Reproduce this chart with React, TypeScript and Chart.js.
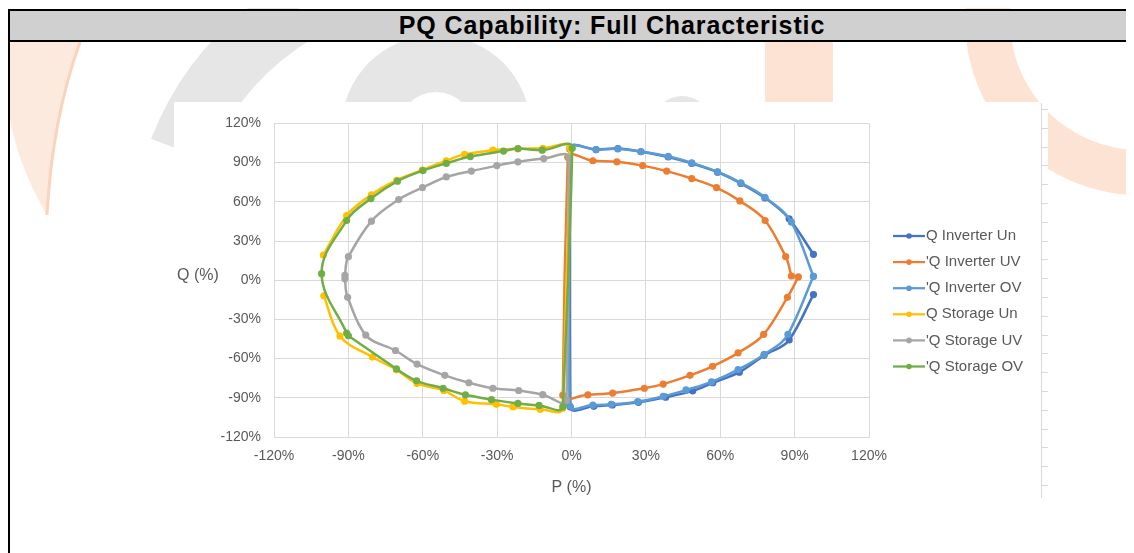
import React, { useEffect, useRef } from "react";
import { Chart, registerables } from "chart.js";

Chart.register(...registerables);

// ---------- data ----------
const seriesNames = [
  "Q Inverter Un",
  "'Q Inverter UV",
  "'Q Inverter OV",
  "Q Storage Un",
  "'Q Storage UV",
  "'Q Storage OV",
];
const seriesColors = ["#4472C4", "#ED7D31", "#5B9BD5", "#FFC000", "#A5A5A5", "#70AD47"];

const invUnP = [97.6, 87.8, 77.7, 67.7, 57.0, 48.9, 38.0, 27.0, 16.5, 9.0, -0.5, -0.5, 9.9, 18.7, 28.0, 39.0, 48.5, 58.9, 68.3, 78.0, 87.8, 97.6];
const invUnQ = [-11, -45.7, -57.5, -70.4, -78.5, -84.7, -89.5, -93.5, -95.5, -96.5, -97, 100.5, 100, 100.7, 98.3, 94.3, 89.4, 82.7, 74, 63, 47, 19.8];

const invUvP = [91.5, 87.1, 77.5, 67.2, 56.9, 47.8, 37.0, 29.4, 16.6, 6.6, -3.5, -1.5, 8.6, 18.3, 28.7, 38.4, 48.5, 58.5, 67.9, 78.1, 86.4, 88.7];
const invUvQ = [2.5, -13.1, -41.5, -55.6, -65.9, -72.8, -79.5, -82.7, -86.4, -87.7, -88, 94, 91.4, 90.6, 87.7, 83.5, 77.8, 70.9, 60.7, 45.7, 18, 3.2];

const invOvP = [97.6, 87.3, 77.7, 67.2, 56.5, 46.2, 37.0, 26.7, 16.0, 8.6, -0.8, -0.8, 9.9, 18.7, 28.0, 39.0, 48.5, 58.9, 68.3, 78.0, 88.7, 97.6];
const invOvQ = [3, -41.5, -56.8, -68.4, -77.8, -84, -88.9, -93, -95, -95.6, -96, 100.5, 100, 100.5, 98.5, 94.8, 89.8, 83, 74.5, 63.5, 44.4, 3];

const stoUnP = [-100.1, -90.7, -80.7, -70.5, -60.2, -50.5, -43.1, -31.7, -21.6, -11.5, -0.8, -3.5, -12.6, -23.6, -30.3, -43.1, -51.5, -62.3, -70.6, -80.3, -93.4, -99.9];
const stoUnQ = [19.3, 49.4, 65.4, 76.5, 84.3, 91.4, 96.3, 99.5, 100.5, 101, 101, -98, -98.8, -97, -95, -92.6, -84.4, -79, -68.6, -58.8, -42.7, -11.9];

const stoUvP = [-91.4, -90.0, -80.7, -69.7, -60.1, -50.5, -40.4, -30.1, -21.6, -11.2, -1.1, -2.0, -11.6, -21.3, -31.7, -41.4, -51.1, -62.3, -71.0, -83.0, -90.3, -91.4];
const stoUvQ = [3.7, 18, 45.2, 61.7, 70.9, 79, 83.5, 87.7, 90.6, 93.1, 93.5, -92, -87.6, -84.4, -82.7, -78.5, -72.8, -64.2, -53.8, -42, -13.1, 1.2];

const stoOvP = [-90.7, -100.8, -90.7, -80.9, -70.2, -59.9, -50.5, -40.8, -27.4, -21.6, -11.8, 0.3, -3.5, -13.1, -21.6, -32.3, -42.8, -51.8, -62.5, -70.6, -90.0];
const stoOvQ = [-40.5, 5, 45.7, 62.5, 75.8, 83.9, 89.4, 94.6, 98.8, 100.7, 99.5, 101, -96.8, -95.8, -94.3, -91.4, -87.7, -82.7, -77, -67.9, -42.5];

const seriesP = [invUnP, invUvP, invOvP, stoUnP, stoUvP, stoOvP];
const seriesQ = [invUnQ, invUvQ, invOvQ, stoUnQ, stoUvQ, stoOvQ];

const axisMin = -120;
const axisMax = 120;
const axisStep = 30;
const xTitle = "P (%)";
const yTitle = "Q (%)";
const chartTitle = "PQ Capability: Full Characteristic";

const FONT = "'Liberation Sans', Arial, sans-serif";
const TEXT = "#595959";
const GRID = "#d9d9d9";

// Excel-like smoothing: tangent dominated by the longer neighbouring segment,
// control distances proportional to each segment length.
const SMOOTH = 0.36;
const smoothPlugin = {
  id: "excelSmooth",
  beforeDatasetDraw(chart: any, args: any) {
    const meta = args.meta;
    const pts = meta.data;
    const n = pts.length;
    for (let i = 0; i < n; i++) {
      const p = pts[i];
      const prev = i > 0 ? pts[i - 1] : null;
      const next = i < n - 1 ? pts[i + 1] : null;
      const lin = prev ? Math.hypot(p.x - prev.x, p.y - prev.y) : 0;
      const lout = next ? Math.hypot(next.x - p.x, next.y - p.y) : 0;
      let tx = 0;
      let ty = 0;
      if (prev && next) {
        tx = (p.x - prev.x) * lin + (next.x - p.x) * lout;
        ty = (p.y - prev.y) * lin + (next.y - p.y) * lout;
      } else if (next) {
        tx = next.x - p.x;
        ty = next.y - p.y;
      } else if (prev) {
        tx = p.x - prev.x;
        ty = p.y - prev.y;
      }
      const tl = Math.hypot(tx, ty) || 1;
      tx /= tl;
      ty /= tl;
      p.cp1x = p.x - tx * SMOOTH * lin;
      p.cp1y = p.y - ty * SMOOTH * lin;
      p.cp2x = p.x + tx * SMOOTH * lout;
      p.cp2y = p.y + ty * SMOOTH * lout;
    }
    if (meta.dataset) meta.dataset._pointsUpdated = true;
  },
};

const overlayPlugin = {
  id: "overlay",
  afterDraw(chart: any) {
    const ctx = chart.ctx;
    const area = chart.chartArea;
    ctx.save();
    ctx.fillStyle = TEXT;
    ctx.font = `16px ${FONT}`;
    ctx.textBaseline = "middle";
    ctx.textAlign = "left";
    ctx.fillText(yTitle, 3, 174);
    ctx.textAlign = "center";
    ctx.fillText(xTitle, (area.left + area.right) / 2, 386);

    // legend
    ctx.font = `15px ${FONT}`;
    ctx.textAlign = "left";
    seriesNames.forEach((name, i) => {
      const y = 134 + i * 26.1;
      ctx.strokeStyle = seriesColors[i];
      ctx.lineWidth = 2.25;
      ctx.beginPath();
      ctx.moveTo(719, y);
      ctx.lineTo(751, y);
      ctx.stroke();
      ctx.fillStyle = seriesColors[i];
      ctx.beginPath();
      ctx.arc(735, y, 2.8, 0, Math.PI * 2);
      ctx.fill();
      ctx.fillStyle = TEXT;
      ctx.fillText(name, 752, y);
    });

    // right-side tick strip
    ctx.strokeStyle = GRID;
    ctx.lineWidth = 1;
    ctx.beginPath();
    ctx.moveTo(867.5, 1);
    ctx.lineTo(867.5, 396);
    for (let k = 0; k < 21; k++) {
      const y = Math.round(7 + k * 18.8) + 0.5;
      ctx.moveTo(867.5, y);
      ctx.lineTo(874, y);
    }
    ctx.stroke();
    ctx.restore();
  },
};

function ChartBox() {
  const ref = useRef<HTMLCanvasElement | null>(null);
  useEffect(() => {
    if (!ref.current) return;
    const datasets = seriesNames.map((name, i) => ({
      label: name,
      data: seriesP[i].map((p, k) => ({ x: p, y: seriesQ[i][k] })),
      showLine: true,
      borderColor: seriesColors[i],
      backgroundColor: seriesColors[i],
      borderWidth: 2.5,
      pointRadius: 3.6,
      pointBorderWidth: 0,
      pointHoverRadius: 3.6,
      tension: 0.3,
      fill: false,
      order: seriesNames.length - 1 - i,
    }));
    const tickFont = { size: 14, family: FONT };
    const chart = new Chart(ref.current, {
      type: "scatter",
      data: { datasets },
      plugins: [smoothPlugin, overlayPlugin],
      options: {
        responsive: false,
        animation: false,
        events: [],
        layout: { padding: { top: 11, right: 179, left: 0, bottom: 0 } },
        plugins: { legend: { display: false }, tooltip: { enabled: false }, title: { display: false } },
        scales: {
          x: {
            type: "linear",
            min: axisMin,
            max: axisMax,
            ticks: {
              stepSize: axisStep,
              color: TEXT,
              font: tickFont,
              padding: 11,
              callback: (v: any) => `${v}%`,
            },
            grid: { color: GRID, lineWidth: 1, drawTicks: false },
            border: { color: GRID },
            afterFit: (s: any) => {
              s.height = 61;
            },
          },
          y: {
            type: "linear",
            min: axisMin,
            max: axisMax,
            ticks: {
              stepSize: axisStep,
              color: TEXT,
              font: tickFont,
              padding: 13,
              callback: (v: any) => `${v}%`,
            },
            grid: { color: GRID, lineWidth: 1, drawTicks: false },
            border: { color: GRID },
            afterFit: (s: any) => {
              s.width = 100;
            },
          },
        },
      },
    } as any);
    return () => chart.destroy();
  }, []);
  return <canvas ref={ref} width={874} height={396} style={{ display: "block", width: 874, height: 396 }} />;
}

function Watermark() {
  const gray = "#e6e6e6";
  const peach = "#fde3d3";
  return (
    <svg width={1134} height={553} style={{ position: "absolute", left: -8, top: -8 }}>
      {/* left orange arc */}
      <path d="M 80 42 Q 52 120 47 215 Q 20 170 10 120 L 10 42 Z" fill="#fdeadf" />
      <path d="M 80 42 Q 52 120 47 215" stroke="#fbd3bb" strokeWidth={3} fill="none" />
      {/* gray band sweeping down-left */}
      <path d="M 300 10 Q 215 60 180 150" stroke={gray} strokeWidth={62} fill="none" />
      {/* gray ring */}
      <path
        d="M 341 130 A 95 95 0 1 1 531 130 A 95 95 0 1 1 341 130 Z M 398 130 A 38 38 0 1 0 474 130 A 38 38 0 1 0 398 130 Z"
        fill={gray}
        fillRule="evenodd"
      />
      {/* small gray hump */}
      <ellipse cx={682} cy={118} rx={26} ry={22} fill={gray} />
      {/* orange band */}
      <rect x={765} y={42} width={68} height={62} fill={peach} />
      {/* orange ring at right */}
      <path
        d="M 965 20 A 175 175 0 1 1 1315 20 A 175 175 0 1 1 965 20 Z M 1010 20 A 130 130 0 1 0 1270 20 A 130 130 0 1 0 1010 20 Z"
        fill={peach}
        fillRule="evenodd"
      />
    </svg>
  );
}

export default function App() {
  return (
    <div style={{ position: "relative", width: 1126, height: 545, overflow: "hidden" }}>
      <Watermark />
      <div
        style={{
          position: "absolute",
          left: 0,
          top: 1,
          width: 1206,
          height: 600,
          borderLeft: "2px solid #000",
          borderTop: "2px solid #000",
          boxSizing: "border-box",
        }}
      >
        <div
          style={{
            height: 29,
            background: "#d0d0d0",
            borderBottom: "2px solid #000",
            display: "flex",
            alignItems: "center",
            justifyContent: "center",
            fontFamily: FONT,
            fontWeight: "bold",
            fontSize: 25,
            letterSpacing: 0.9,
            color: "#000",
            lineHeight: "29px",
          }}
        >
          {chartTitle}
        </div>
      </div>
      <div style={{ position: "absolute", left: 166, top: 94, width: 874, height: 396, background: "#fff" }}>
        <ChartBox />
      </div>
    </div>
  );
}
